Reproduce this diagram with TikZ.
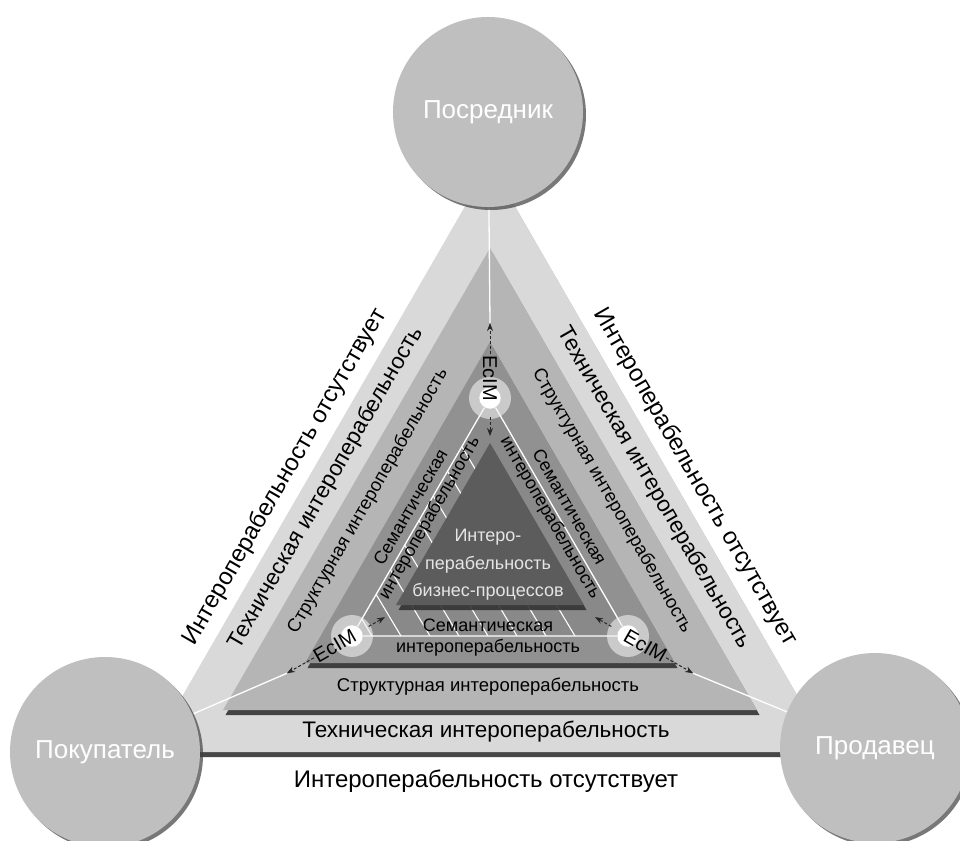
\documentclass[tikz,border=0pt]{standalone}
\usepackage{fontspec}
\setmainfont{Liberation Sans}
\usetikzlibrary{calc,shadows,arrows.meta}

\definecolor{techgray}{gray}{0.85}
\definecolor{structgray}{gray}{0.71}
\definecolor{semgray}{gray}{0.57}
\definecolor{bizgray}{gray}{0.36}
\definecolor{actorgray}{gray}{0.75}

\begin{document}
\begin{tikzpicture}[
  x=1pt, y=-1pt,
  actor/.style={circle, fill=actorgray, minimum size=190pt, inner sep=0pt, text=white,
    font=\fontsize{26}{30}\selectfont,
    drop shadow={shadow xshift=3pt, shadow yshift=-3pt, fill=black!75, opacity=.7}},
  band/.style={drop shadow={shadow xshift=2.5pt, shadow yshift=-5pt, fill=black!80, opacity=.9}},
  wline/.style={draw=white, line width=1.3pt},
  hatch/.style={draw=white, line width=1.1pt},
  ecim/.style={circle, fill=white, draw=gray!40, minimum size=22pt, inner sep=0pt},
  halo/.style={fill=gray!12, opacity=.6},
  eclbl/.style={font=\fontsize{20}{22}\selectfont, inner sep=1pt},
  ecarrow/.style={-{Stealth[length=8pt,width=6pt]}, densely dashed, line width=1pt, draw=black!85},
  absent/.style={font=\fontsize{24}{28}\selectfont},
  tech/.style={font=\fontsize{22.5}{26}\selectfont},
  struct/.style={font=\fontsize{18.5}{21}\selectfont},
  sem/.style={font=\fontsize{18}{21}\selectfont, align=center},
  biz/.style={font=\fontsize{18}{27.5}\selectfont, align=center, text=white!90!black}
]
\useasboundingbox (0,0) rectangle (960,840);
\fill[white] (0,0) rectangle (960,840);

% centres
\coordinate (cBroker) at (488,112);
\coordinate (cBuyer) at (105,752);
\coordinate (cSeller) at (875,748);
\coordinate (mid) at (490,557);
\coordinate (eT) at (490,398);
\coordinate (eL) at (352,636);
\coordinate (eR) at (628,636);
\foreach \e in {T,L,R} {
  \coordinate (tip\e) at ($(e\e)!-75pt!(mid)$);
  \coordinate (in\e) at ($(e\e)!38pt!(mid)$);
}

% interoperability levels
\fill[techgray, band] (490,163) -- (830,752) -- (150,752) -- cycle;
\fill[structgray, band] (490,248) -- (757,710) -- (223,710) -- cycle;
\fill[semgray, band] (490,342) -- (675,663) -- (305,663) -- cycle;

% hatched semantic field
\fill[semgray!94!black] (eT) -- (eR) -- (eL) -- cycle;
\begin{scope}
  \clip (eT) -- (eR) -- (eL) -- cycle;
  \foreach \b in {372,401,...,576} \draw[hatch] (\b,636) -- ++(-190,-318);
\end{scope}
\fill[bizgray, band] (490,443) -- (584,605) -- (396,605) -- cycle;
\draw[wline] (eT) -- (eR) -- (eL) -- cycle;

% links to the parties
\draw[wline] (cBroker) -- (tipT);
\draw[wline] (cBuyer) -- (tipL);
\draw[wline] (cSeller) -- (tipR);

\node[actor] (broker) at (cBroker) {Посредник};
\node[actor] (buyer) at (cBuyer) {Покупатель};
\node[actor] (seller) at (cSeller) {Продавец};

% EcIM
\foreach \e in {T,L,R} \fill[halo] (e\e) circle (21pt);
\node[ecim] (ecimT) at (eT) {};
\node[ecim] (ecimL) at (eL) {};
\node[ecim] (ecimR) at (eR) {};
\node[eclbl, rotate=-90] (lblT) at ($(eT)!-20pt!(mid)$) {EcIM};
\node[eclbl, rotate=29.8] (lblL) at ($(eL)!-20pt!(mid)$) {EcIM};
\node[eclbl, rotate=-29.8] (lblR) at ($(eR)!-20pt!(mid)$) {EcIM};
\draw[ecarrow] (lblT) -- (tipT);
\draw[ecarrow] (lblL) -- (tipL);
\draw[ecarrow] (lblR) -- (tipR);
\draw[ecarrow, shorten <=8pt] (ecimT) -- (inT);
\draw[ecarrow, shorten <=8pt] (ecimL) -- (inL);
\draw[ecarrow, shorten <=8pt] (ecimR) -- (inR);

% left side
\node[absent, rotate=60] (absL) at (285,477) {Интероперабельность отсутствует};
\node[tech, rotate=60] (techL) at (326,488) {Техническая интероперабельность};
\node[struct, rotate=60] (strL) at (368,501) {Структурная интероперабельность};
\node[sem, rotate=60] (semL) at (421,513) {Семантическая\\интероперабельность};
% right side
\node[absent, rotate=-60] (absR) at (695,477) {Интероперабельность отсутствует};
\node[tech, rotate=-60] (techR) at (654,488) {Техническая интероперабельность};
\node[struct, rotate=-60] (strR) at (612,501) {Структурная интероперабельность};
\node[sem, rotate=-60] (semR) at (559,513) {Семантическая\\интероперабельность};
% bottom
\node[absent] (absB) at (486,781) {Интероперабельность отсутствует};
\node[tech] (techB) at (486,732) {Техническая интероперабельность};
\node[struct] (strB) at (488,687) {Структурная интероперабельность};
\node[sem] (semB) at (488,638) {Семантическая\\интероперабельность};
\node[biz] (biz) at (488,565) {Интеро-\\перабельность\\бизнес-процессов};
\end{tikzpicture}
\end{document}
